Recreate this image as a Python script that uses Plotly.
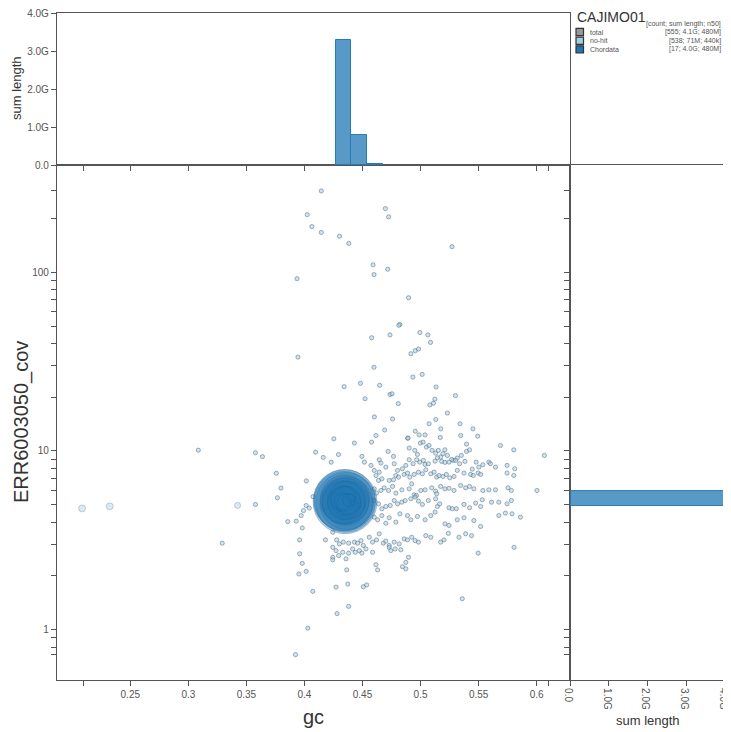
import numpy as np
import plotly.graph_objects as go

# page body adds an 8px margin, so the figure is drawn 8px smaller and offset
PAGE_W, PAGE_H = 731, 732
OFF = 8
W, H = PAGE_W - OFF, PAGE_H - OFF

# ---------------- data ----------------
assembly = "CAJIMO01"
cov_title = "ERR6003050_cov"
legend_header = "[count; sum length; n50]"
legend_names = ["total", "no-hit", "Chordata"]
legend_stats = ["[555; 4.1G; 480M]", "[538; 71M; 440k]", "[17; 4.0G; 480M]"]
legend_colors = ["#999999", "#a6cee3", "#1f78b4"]

# no-hit contigs: gc / coverage, upper sparse region
nohit_a_gc = [0.4145, 0.4024, 0.4064, 0.4145, 0.4302, 0.4382, 0.4697, 0.4725, 0.5271, 0.3936,
              0.4591, 0.4599, 0.4717, 0.4897, 0.4822, 0.4813, 0.4579, 0.4737, 0.4994, 0.5063,
              0.5086, 0.3944, 0.4917, 0.4954, 0.4983, 0.4599, 0.4934, 0.5014, 0.4342, 0.4482,
              0.4648, 0.4522, 0.4737, 0.4754, 0.4808, 0.5134, 0.5123, 0.5111, 0.5080, 0.5300,
              0.5231, 0.4602, 0.4759, 0.4253, 0.4616, 0.4691, 0.4888, 0.4954, 0.4988, 0.5074,
              0.5131, 0.5174, 0.5340, 0.5451, 0.5346, 0.5492, 0.4096, 0.4162, 0.4293, 0.4230,
              0.4016]
nohit_a_cov = [285, 210, 180, 167, 159, 145, 227, 204, 139, 92,
               110, 97, 104, 72, 51, 50.5, 43, 44.6, 46, 44.6,
               40.5, 33.5, 35, 36.4, 37.2, 29.4, 25.9, 26.8, 22.9, 23.9,
               23.3, 19.6, 20.7, 20.9, 18.4, 22.8, 19.5, 18.5, 18.1, 20.4,
               16.3, 15.5, 15.1, 11.7, 12.2, 13.1, 11.8, 12.9, 12.3, 14.2,
               15.0, 13.3, 14.2, 13.3, 12.2, 12.1, 9.85, 9.2, 9.55, 8.65,
               6.8]

# no-hit contigs: main cloud
nohit_b_gc = [0.4430, 0.4578, 0.4893, 0.5039, 0.5170, 0.5396, 0.5688, 0.5803,
              0.4495, 0.4516, 0.4644, 0.4659, 0.4721, 0.4767, 0.4902, 0.4950, 0.4973, 0.4999,
              0.5022, 0.5050, 0.5073, 0.5099, 0.5130, 0.5153, 0.5173, 0.5193, 0.5210, 0.5231,
              0.5282, 0.5316, 0.5351, 0.5396, 0.5422, 0.5479, 0.5588, 0.5602, 0.5745, 0.5811,
              0.6066,
              0.4573, 0.4601, 0.4644, 0.4701, 0.4773, 0.4802, 0.4844, 0.4873, 0.4902, 0.4936,
              0.4967, 0.4993, 0.5025, 0.5039, 0.5067, 0.5125, 0.5145, 0.5182, 0.5210, 0.5245,
              0.5268, 0.5302, 0.5336, 0.5382, 0.5445, 0.5502, 0.5537, 0.5645,
              0.4616, 0.4638, 0.4667, 0.4730, 0.4767, 0.4787, 0.4810, 0.4859, 0.4887, 0.4907,
              0.4945, 0.4982, 0.5016, 0.5045, 0.5088, 0.5116, 0.5139, 0.5159, 0.5193, 0.5222,
              0.5251, 0.5288, 0.5316, 0.5374, 0.5431, 0.5454, 0.5496, 0.5517, 0.5745, 0.5803,
              0.4601, 0.4621, 0.4659, 0.4687, 0.4724, 0.4759, 0.4787, 0.4839, 0.4902, 0.4924,
              0.4945, 0.4965, 0.5002, 0.5039, 0.5096, 0.5130, 0.5139, 0.5173, 0.5210, 0.5245,
              0.5288, 0.5345, 0.5388, 0.5422, 0.5459, 0.5537, 0.5588, 0.5645, 0.5754, 0.5782,
              0.6003,
              0.4601, 0.4638, 0.4667, 0.4701, 0.4739, 0.4773, 0.4802, 0.4839, 0.4867, 0.4916,
              0.4953, 0.4982, 0.5016, 0.5067, 0.5130, 0.5145, 0.5165, 0.5245, 0.5273, 0.5308,
              0.5374, 0.5422, 0.5474, 0.5517, 0.5531, 0.5611, 0.5674, 0.5745, 0.5782,
              0.4601, 0.4630, 0.4667, 0.4701, 0.4730, 0.4787, 0.4822, 0.4887, 0.4916, 0.4973,
              0.5039, 0.5088, 0.5125, 0.5210, 0.5245, 0.5316, 0.5374, 0.5459, 0.5517, 0.5674,
              0.5731, 0.5788, 0.5860]
nohit_b_cov = [11.07, 11.21, 11.80, 12.3, 11.9, 10.92, 10.73, 10.15,
               9.32, 8.66, 8.93, 8.55, 9.94, 9.32, 10.38, 10.07, 9.56, 11.07,
               11.21, 10.51, 10.73, 10.07, 9.73, 10.07, 9.24, 9.65, 10.15, 9.44,
               8.85, 9.12, 9.44, 9.94, 10.15, 8.66, 8.66, 8.48, 8.30, 7.95,
               9.44,
               8.30, 7.78, 7.61, 8.12, 8.48, 7.78, 7.95, 8.30, 8.93, 8.48,
               8.93, 8.66, 8.85, 8.41, 8.48, 8.77, 9.16, 8.74, 8.63, 8.66,
               8.97, 8.85, 8.48, 8.74, 7.91, 8.12, 8.37, 8.12,
               7.29, 6.84, 6.99, 6.84, 6.90, 7.29, 7.14, 7.39, 7.52, 7.14,
               7.39, 7.61, 7.45, 7.85, 7.45, 7.61, 7.14, 7.29, 7.20, 7.39,
               7.08, 7.20, 7.78, 7.52, 7.39, 7.29, 7.52, 7.39, 7.52, 7.29,
               6.14, 5.81, 6.01, 6.22, 6.01, 6.33, 5.81, 6.06, 6.14, 6.55,
               5.68, 5.64, 6.01, 6.06, 6.22, 5.96, 5.76, 6.33, 6.14, 6.18,
               6.01, 6.41, 6.22, 6.33, 6.14, 6.01, 6.06, 6.06, 6.22, 6.01,
               6.01,
               5.28, 5.06, 4.75, 4.89, 4.95, 5.28, 5.06, 5.17, 5.28, 5.40,
               5.52, 5.24, 5.02, 5.28, 5.40, 4.89, 5.06, 4.81, 4.75, 4.75,
               5.02, 4.81, 5.11, 4.89, 5.33, 5.17, 5.17, 5.06, 5.28,
               4.26, 4.12, 4.35, 3.94, 4.23, 4.00, 4.45, 4.35, 4.12, 4.30,
               4.12, 4.35, 4.55, 3.91, 3.83, 4.12, 4.23, 4.08, 3.78, 4.35,
               4.49, 4.45, 4.26]

# no-hit contigs: lower tail
nohit_c_gc = [0.4244, 0.4278, 0.4301, 0.4335, 0.4381, 0.4430, 0.4458, 0.4487, 0.4507, 0.4558,
              0.4587, 0.4621, 0.4644, 0.4679, 0.4701, 0.4730, 0.4773, 0.4816, 0.4859, 0.4887,
              0.4924, 0.4953, 0.4982, 0.5045, 0.5088, 0.5173, 0.5202, 0.5239, 0.5331, 0.5388,
              0.5439, 0.5496, 0.5805,
              0.3958, 0.4181, 0.3981, 0.3952, 0.4015, 0.4072, 0.4244, 0.4244, 0.4244, 0.4272,
              0.4295, 0.4330, 0.4358, 0.4381, 0.4415, 0.4438, 0.4473, 0.4495, 0.4530, 0.4587,
              0.4616, 0.4630, 0.4730, 0.4744, 0.4781, 0.4830, 0.4844, 0.4873, 0.4873, 0.4896,
              0.4364, 0.4272, 0.4373, 0.4507, 0.4536, 0.4381, 0.4281, 0.4029, 0.3923, 0.5359,
              0.4015, 0.3992, 0.3972, 0.3929, 0.3981]
nohit_c_cov = [3.51, 3.18, 3.02, 3.09, 3.05, 3.09, 3.05, 3.15, 2.96, 3.29,
               3.09, 3.18, 3.44, 3.05, 3.13, 2.96, 3.09, 3.02, 3.22, 3.18,
               3.29, 3.15, 3.09, 3.36, 3.29, 3.09, 3.18, 3.46, 3.29, 3.44,
               3.36, 2.68, 2.89,
               3.18, 3.18, 2.35, 2.05, 2.12, 1.64, 2.89, 2.54, 2.46, 2.77,
               2.60, 2.71, 2.49, 2.68, 2.83, 2.71, 2.77, 2.68, 2.83, 2.71,
               2.31, 2.16, 2.89, 2.77, 2.83, 2.80, 2.25, 2.38, 2.19, 2.54,
               2.16, 1.73, 1.80, 1.74, 1.78, 1.35, 1.23, 1.02, 0.725, 1.49,
               4.95, 4.64, 4.35, 4.05, 3.71]

# no-hit contigs: left side
nohit_d_gc = [0.3086, 0.3578, 0.3638, 0.3758, 0.3798, 0.3767, 0.3578, 0.3292, 0.3856, 0.3959,
              0.4074, 0.4042]
nohit_d_cov = [10.1, 9.77, 9.3, 7.5, 6.2, 5.47, 5.02, 3.05, 4.02, 2.66,
               5.55, 4.79]

# larger no-hit contigs (length in Mb)
nohit_big_gc = [0.2085, 0.2323, 0.3424]
nohit_big_cov = [4.77, 4.90, 4.96]
nohit_big_len = [6.5, 6.5, 5.0]

# Chordata sequences (length in Mb)
chord_gc = [0.4350, 0.4345, 0.4355, 0.4340, 0.4360, 0.4348, 0.4352, 0.4338, 0.4365,
            0.4342, 0.4357, 0.4335, 0.4370, 0.4330, 0.4380, 0.4400, 0.4420]
chord_cov = [5.20, 5.30, 5.15, 5.25, 5.10, 5.35, 5.20, 5.15, 5.30,
             5.10, 5.25, 5.40, 5.05, 5.20, 5.30, 5.50, 5.10]
chord_len = [560, 520, 490, 480, 380, 330, 300, 250, 200, 150, 120, 90, 60, 40, 20, 8, 2]

# gc histogram (sum length per bin)
gc_bin_lo = [0.427, 0.4405, 0.454]
gc_bin_hi = [0.4405, 0.454, 0.4675]
gc_bin_chord = [3.28e9, 0.78e9, 0.03e9]
gc_nohit_lo = [0.4135, 0.427, 0.4405, 0.454, 0.4675, 0.481, 0.4945, 0.508, 0.5215, 0.535, 0.5485, 0.562]
gc_nohit_hi = [0.427, 0.4405, 0.454, 0.4675, 0.481, 0.4945, 0.508, 0.5215, 0.535, 0.5485, 0.562, 0.5755]
gc_nohit_len = [2e6, 3e6, 5e6, 9e6, 8e6, 9e6, 10e6, 9e6, 7e6, 5e6, 3e6, 1e6]

# coverage histogram (sum length per bin)
cov_bin_lo = [4.95]
cov_bin_hi = [6.0]
cov_bin_chord = [4.0e9]

# axis ticks
gc_ticks = [0.25, 0.3, 0.35, 0.4, 0.45, 0.5, 0.55, 0.6]
gc_extent = [0.2093, 0.6101]
cov_major = [1, 10, 100]
cov_minor = [0.8, 0.9, 2, 3, 4, 5, 6, 7, 8, 9, 20, 30, 40, 50, 60, 70, 80, 90, 200]
cov_extent = [0.726, 285]
len_ticks = [0, 1e9, 2e9, 3e9, 4e9]

# ---------------- layout geometry (page px) ----------------
X0, X1, X2 = 57, 570, 725
Y0, Y1, Y2 = 13, 165, 680


def px(x):
    return (x - OFF) / W


def py(y):
    return 1 - (y - OFF) / H


gc_range = [0.1869, 0.6287]
cov_range = [-0.2815, 2.600]

fig = go.Figure()

# scatter: no-hit
nh_gc = nohit_a_gc + nohit_b_gc + nohit_c_gc + nohit_d_gc
nh_cov = nohit_a_cov + nohit_b_cov + nohit_c_cov + nohit_d_cov
K = 2.7  # px per sqrt(Mb)
fig.add_trace(go.Scatter(
    x=nohit_big_gc, y=nohit_big_cov, mode="markers", xaxis="x", yaxis="y",
    marker=dict(size=[K * np.sqrt(v) for v in nohit_big_len], color="rgba(166,206,227,0.6)",
                line=dict(color="rgba(90,120,140,0.6)", width=0.8)),
    hoverinfo="skip"))
fig.add_trace(go.Scatter(
    x=nh_gc, y=nh_cov, mode="markers", xaxis="x", yaxis="y",
    marker=dict(size=4.2, color="rgba(166,206,227,0.55)",
                line=dict(color="rgba(70,95,115,0.6)", width=0.8)),
    hoverinfo="skip"))
# scatter: Chordata
fig.add_trace(go.Scatter(
    x=chord_gc, y=chord_cov, mode="markers", xaxis="x", yaxis="y",
    marker=dict(size=[K * np.sqrt(v) for v in chord_len], color="rgba(31,120,180,0.45)",
                line=dict(color="rgba(31,100,160,0.5)", width=1)),
    hoverinfo="skip"))

# top histogram
fig.add_trace(go.Bar(
    x=[(a + b) / 2 for a, b in zip(gc_nohit_lo, gc_nohit_hi)], y=gc_nohit_len,
    width=[b - a for a, b in zip(gc_nohit_lo, gc_nohit_hi)], xaxis="x2", yaxis="y2",
    marker=dict(color="rgba(166,206,227,0.7)", line=dict(width=0)),
    hoverinfo="skip"))
fig.add_trace(go.Bar(
    x=[(a + b) / 2 for a, b in zip(gc_bin_lo, gc_bin_hi)], y=gc_bin_chord,
    width=[b - a for a, b in zip(gc_bin_lo, gc_bin_hi)], xaxis="x2", yaxis="y2",
    marker=dict(color="rgba(31,120,180,0.75)", line=dict(color="#2a7ab5", width=1)),
    hoverinfo="skip"))

# right histogram (horizontal bars on log coverage axis)
for lo, hi, v in zip(cov_bin_lo, cov_bin_hi, cov_bin_chord):
    fig.add_trace(go.Scatter(
        x=[0, v, v, 0, 0], y=[lo, lo, hi, hi, lo], xaxis="x3", yaxis="y3",
        mode="lines", fill="toself", fillcolor="rgba(31,120,180,0.75)",
        line=dict(color="#2a7ab5", width=1), hoverinfo="skip"))

axis_common = dict(showline=True, linecolor="#555", linewidth=1.2, mirror=True,
                   ticks="outside", ticklen=5, tickcolor="#555", tickwidth=1,
                   showgrid=False, zeroline=False, automargin=False,
                   ticklabeloverflow="allow",
                   tickfont=dict(size=10, color="#555", family="Liberation Sans, Arial"))

gc_vals = sorted(gc_ticks + gc_extent)
gc_text = [f"{v:g}" if v in gc_ticks else "" for v in gc_vals]
cov_vals = sorted(cov_major + cov_minor + cov_extent)
cov_text = [f"{v:g}" if v in cov_major else "" for v in cov_vals]
len_text = ["0.0" if v == 0 else f"{v / 1e9:.1f}G" for v in len_ticks]

fig.update_layout(
    width=W, height=H, margin=dict(l=0, r=0, t=0, b=0, pad=0, autoexpand=False),
    paper_bgcolor="white", plot_bgcolor="white", showlegend=False,
    barmode="overlay", bargap=0,
    font=dict(family="Liberation Sans, Arial", color="#555"),
    xaxis=dict(domain=[px(X0), px(X1)], range=gc_range, anchor="y",
               tickmode="array", tickvals=gc_vals, ticktext=gc_text, **axis_common),
    yaxis=dict(domain=[py(Y2), py(Y1)], type="log", range=cov_range, anchor="x",
               tickmode="array", tickvals=cov_vals, ticktext=cov_text, **axis_common),
    xaxis2=dict(domain=[px(X0), px(X1)], range=gc_range, anchor="y2",
                tickmode="array", tickvals=gc_vals, showticklabels=False, **axis_common),
    yaxis2=dict(domain=[py(Y1), py(Y0)], range=[0, 4e9], anchor="x2",
                tickmode="array", tickvals=len_ticks, ticktext=len_text, **axis_common),
    xaxis3=dict(domain=[px(X1), px(X2)], range=[0, 4e9], anchor="y3",
                tickmode="array", tickvals=len_ticks, ticktext=len_text, tickangle=90,
                ticklabelshift=-2, **axis_common),
    yaxis3=dict(domain=[py(Y2), py(Y1)], type="log", range=cov_range, anchor="x3",
                tickmode="array", tickvals=cov_vals, showticklabels=False, **axis_common),
)

ann = []
shapes = []


def label(text, x, y, size, color, xanchor="center", yanchor="middle", angle=0):
    ann.append(dict(text=text, x=px(x), y=py(y), xanchor=xanchor, yanchor=yanchor,
                    textangle=angle, showarrow=False, xref="paper", yref="paper",
                    font=dict(size=size, color=color, family="Liberation Sans, Arial")))


# axis titles
label("sum length", 17, 88, 13, "#333", angle=-90)
label(cov_title, 21, 422, 20, "#333", angle=-90)
label("gc", 313, 717, 20, "#333")
label("sum length", 648, 720, 13, "#333")

# legend
label(assembly, 575, 16.5, 14, "#333", xanchor="left")
label(legend_header, 723, 24, 7, "#555", xanchor="right")
row_y = [32.0, 40.7, 49.4]
for name, stat, col, yy in zip(legend_names, legend_stats, legend_colors, row_y):
    shapes.append(dict(type="rect", xref="paper", yref="paper",
                       x0=px(576), x1=px(583.5), y0=py(yy - 3.6), y1=py(yy + 3.6),
                       fillcolor=col, line=dict(color="#333", width=1.2)))
    label(name, 588, yy, 7, "#555", xanchor="left")
    label(stat, 723, yy, 7, "#555", xanchor="right")

fig.update_layout(annotations=ann, shapes=shapes)
fig.write_html("out.html")
